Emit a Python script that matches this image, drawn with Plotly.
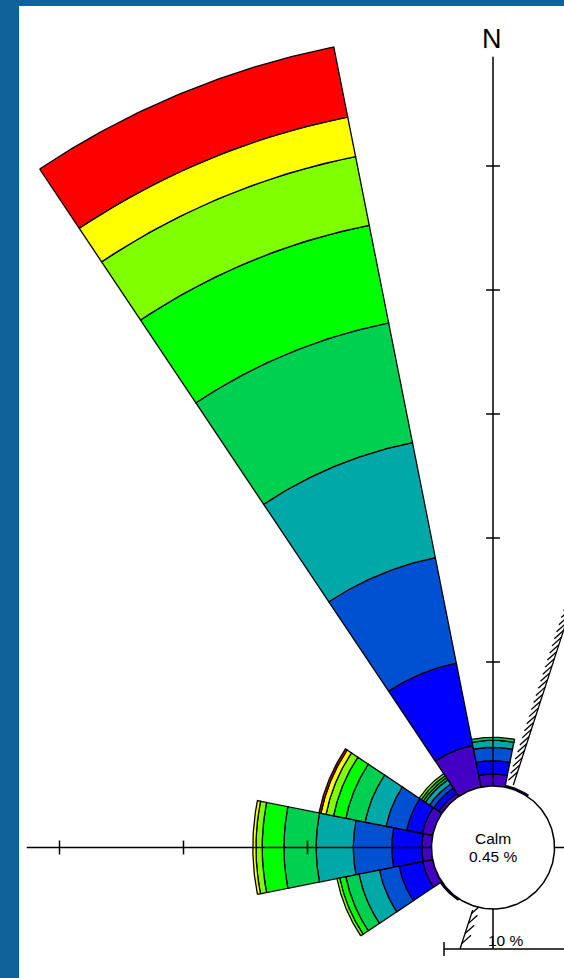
import numpy as np
import plotly.graph_objects as go

# ---------------- data ----------------
directions = ["N", "NNE", "NE", "ENE", "E", "ESE", "SE", "SSE",
              "S", "SSW", "SW", "WSW", "W", "WNW", "NW", "NNW"]
bearings_deg = [0.0, 22.5, 45.0, 67.5, 90.0, 112.5, 135.0, 157.5,
                180.0, 202.5, 225.0, 247.5, 270.0, 292.5, 315.0, 337.5]
speed_classes = ["Class 1", "Class 2", "Class 3", "Class 4", "Class 5",
                 "Class 6", "Class 7", "Class 8", "Class 9"]
class_colors = ["#4400C4", "#0000FF", "#0050D2", "#00A8A8", "#00D050",
                "#00FF00", "#80FF00", "#FFFF00", "#FF0000"]

#            N     NNE   NE  ENE E  ESE SE SSE S  SSW SW    WSW   W     WNW   NW    NNW
freq_c1 = [0.97, 0.14, 0, 0, 0, 0, 0, 0, 0, 0, 0.14, 0.83, 0.79, 0.85, 0.30, 3.43]
freq_c2 = [1.07, 0.00, 0, 0, 0, 0, 0, 0, 0, 0, 0.00, 1.94, 2.42, 1.29, 0.50, 6.77]
freq_c3 = [1.08, 0.00, 0, 0, 0, 0, 0, 0, 0, 0, 0.00, 1.61, 3.10, 1.69, 0.40, 8.67]
freq_c4 = [0.57, 0.00, 0, 0, 0, 0, 0, 0, 0, 0, 0.00, 1.68, 3.00, 1.73, 0.40, 9.46]
freq_c5 = [0.24, 0.00, 0, 0, 0, 0, 0, 0, 0, 0, 0.00, 1.08, 2.60, 1.58, 0.20, 9.84]
freq_c6 = [0.00, 0.00, 0, 0, 0, 0, 0, 0, 0, 0, 0.00, 0.50, 1.75, 1.01, 0.20, 8.03]
freq_c7 = [0.00, 0.00, 0, 0, 0, 0, 0, 0, 0, 0, 0.00, 0.23, 0.50, 0.62, 0.20, 5.65]
freq_c8 = [0.00, 0.00, 0, 0, 0, 0, 0, 0, 0, 0, 0.00, 0.00, 0.25, 0.42, 0.00, 3.25]
freq_c9 = [0.00, 0.00, 0, 0, 0, 0, 0, 0, 0, 0, 0.00, 0.00, 0.00, 0.16, 0.00, 5.75]
freq_by_class = [freq_c1, freq_c2, freq_c3, freq_c4, freq_c5,
                 freq_c6, freq_c7, freq_c8, freq_c9]

calm_pct = 0.45
sector_width_deg = 22.5
coast_bearing_deg = 18.0
radial_ticks_pct = [10, 20, 30, 40, 50]
scale_bar_pct = 10

# ---------------- style / geometry ----------------
R0 = 4.96             # radius of calm circle (in % units)
X_RANGE = [-38.226, 5.726]
Y_RANGE = [-10.524, 67.863]
N_AXIS_END = 63.77    # top end of N axis line
W_AXIS_END = -37.6    # left end of W axis line
SCALE_Y = -8.19
SCALE_X0 = -3.95
TICK_HALF = 0.56
HATCH_ANGLE = 30
HATCH_LEN = 1.0
FONT = "Liberation Sans, Arial, sans-serif"


def pol(r, b):
    br = np.deg2rad(b)
    return r * np.sin(br), r * np.cos(br)


fig = go.Figure()

# stacked wedges, one trace per speed class
cum = np.zeros(len(directions))
for ci, (name, col, vals) in enumerate(zip(speed_classes, class_colors, freq_by_class)):
    xs, ys = [], []
    for di, b in enumerate(bearings_deg):
        v = vals[di]
        if v <= 0:
            continue
        r_in = R0 + cum[di]
        r_out = r_in + v
        ang = np.linspace(b - sector_width_deg / 2, b + sector_width_deg / 2, 60)
        xo, yo = pol(r_out, ang)
        xi, yi = pol(r_in, ang[::-1])
        px = list(xo) + list(xi) + [xo[0]]
        py = list(yo) + list(yi) + [yo[0]]
        xs += px + [None]
        ys += py + [None]
    cum += np.array(vals)
    fig.add_trace(go.Scatter(x=xs, y=ys, mode="lines", fill="toself",
                             fillcolor=col, line=dict(color="black", width=1.3),
                             name=name, hoverinfo="skip", showlegend=False))

# axis lines with ticks
axx, axy = [], []
axx += [0, 0, None]
axy += [N_AXIS_END, SCALE_Y, None]
axx += [W_AXIS_END, X_RANGE[1] + 5, None]
axy += [0, 0, None]
for t in radial_ticks_pct:
    r = R0 + t
    if r < N_AXIS_END:
        axx += [-TICK_HALF, TICK_HALF, None]
        axy += [r, r, None]
    if -r > W_AXIS_END:
        axx += [-r, -r, None]
        axy += [-TICK_HALF, TICK_HALF, None]
fig.add_trace(go.Scatter(x=axx, y=axy, mode="lines",
                         line=dict(color="black", width=1.5),
                         hoverinfo="skip", showlegend=False))

# coastline with hatches
hx, hy = [], []
# upper part
r_start, r_end = 5.3, 90.0
x1, y1 = pol(r_start, coast_bearing_deg)
x2, y2 = pol(r_end, coast_bearing_deg)
hx += [x1, x2, None]
hy += [y1, y2, None]
hb = coast_bearing_deg + 180 + HATCH_ANGLE
for r in np.arange(6.4, r_end, 0.6):
    px, py = pol(r, coast_bearing_deg)
    dx, dy = pol(HATCH_LEN, hb)
    hx += [px, px + dx, None]
    hy += [py, py + dy, None]
# lower part (down to scale bar)
lb = coast_bearing_deg + 180
r_low_end = SCALE_Y / np.cos(np.deg2rad(lb))
x1, y1 = pol(r_start, lb)
x2, y2 = pol(r_low_end, lb)
hx += [x1, x2, None]
hy += [y1, y2, None]
hb2 = coast_bearing_deg + HATCH_ANGLE
for r in np.arange(5.6, r_low_end - 0.2, 0.85):
    px, py = pol(r, lb)
    dx, dy = pol(HATCH_LEN, hb2)
    hx += [px, px + dx, None]
    hy += [py, py + dy, None]
fig.add_trace(go.Scatter(x=hx, y=hy, mode="lines",
                         line=dict(color="black", width=1.3),
                         hoverinfo="skip", showlegend=False))

# scale bar
sx = [SCALE_X0, SCALE_X0 + scale_bar_pct, None, SCALE_X0, SCALE_X0]
sy = [SCALE_Y, SCALE_Y, None, SCALE_Y - TICK_HALF, SCALE_Y + TICK_HALF]
fig.add_trace(go.Scatter(x=sx, y=sy, mode="lines",
                         line=dict(color="black", width=1.5),
                         hoverinfo="skip", showlegend=False))

# calm circle
ca = np.linspace(0, 360, 241)
cx, cy = pol(R0, ca)
fig.add_trace(go.Scatter(x=cx, y=cy, mode="lines", fill="toself",
                         fillcolor="white", line=dict(color="black", width=1.5),
                         hoverinfo="skip", showlegend=False))

annotations = [
    dict(x=0, y=0.70, text="Calm", font=dict(size=15.5, color="black", family=FONT)),
    dict(x=0, y=-0.70, text=f"{calm_pct:.2f} %", font=dict(size=15.5, color="black", family=FONT)),
    dict(x=-0.08, y=65.24, text="N", font=dict(size=27, color="black", family=FONT)),
    dict(x=SCALE_X0 + scale_bar_pct / 2, y=SCALE_Y + 0.72, text=f"{scale_bar_pct} %",
         font=dict(size=15.5, color="black", family=FONT)),
]
for a in annotations:
    a.update(xref="x", yref="y", showarrow=False, xanchor="center", yanchor="middle")

fig.update_layout(
    width=564, height=978,
    margin=dict(l=19, r=0, t=6, b=0, pad=0, autoexpand=False),
    paper_bgcolor="#10629B",
    plot_bgcolor="white",
    showlegend=False,
    annotations=annotations,
    xaxis=dict(range=X_RANGE, visible=False, showgrid=False, zeroline=False, fixedrange=True),
    yaxis=dict(range=Y_RANGE, visible=False, showgrid=False, zeroline=False, fixedrange=True),
)

fig.write_html("out.html", config={"displayModeBar": False},
               post_script="document.body.style.margin='0px';document.body.style.overflow='hidden';")
